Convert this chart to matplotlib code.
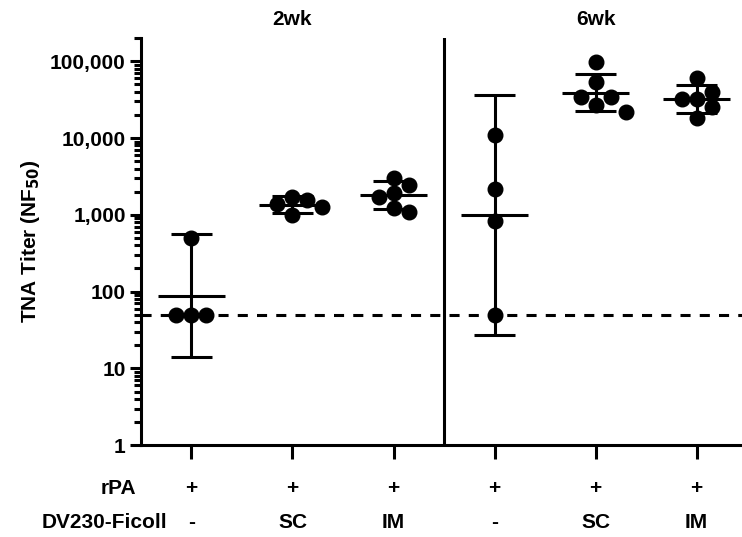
import numpy as np
import matplotlib
matplotlib.use("Agg")
import matplotlib.pyplot as plt
from matplotlib.ticker import FixedLocator, LogLocator, NullFormatter

plt.rcParams['font.family'] = ['Liberation Sans', 'DejaVu Sans']
plt.rcParams['font.weight'] = 'bold'

# Data: TNA titers per animal, six groups
groups = ["2wk rPA", "2wk SC", "2wk IM", "6wk rPA", "6wk SC", "6wk IM"]
titers = [
    [500, 50, 50, 50],
    [1700, 1550, 1400, 1250, 1000],
    [3050, 2470, 1940, 1720, 1230, 1090],
    [11000, 2200, 835, 50],
    [97000, 53000, 34000, 34000, 27000, 22000],
    [61000, 40000, 31800, 31800, 25000, 18500],
]
rpa_row = ["+", "+", "+", "+", "+", "+"]
ficoll_row = ["-", "SC", "IM", "-", "SC", "IM"]
time_labels = ["2wk", "6wk"]
lod = 50
y_ticks = [1, 10, 100, 1000, 10000, 100000]
y_ticklabels = ["1", "10", "100", "1,000", "10,000", "100,000"]

# two-sided 95% t critical values by degrees of freedom
t_crit = {2: 4.303, 3: 3.182, 4: 2.776, 5: 2.571, 6: 2.447}

fig = plt.figure(figsize=(7.42, 5.37), dpi=100)
ax = fig.add_axes([0.19, 0.171, 0.81, 0.758])
ax.set_yscale("log")
ax.set_xlim(-0.5, 5.45)
ax.set_ylim(1, 2e5)

lw = 2.2
fs = 15
x_pos = np.arange(len(groups))

# Geometric mean with 95% CI
for x, vals in zip(x_pos, titers):
    logs = np.log10(vals)
    m = logs.mean()
    se = logs.std(ddof=1) / np.sqrt(len(logs))
    half = t_crit[len(logs) - 1] * se
    ax.vlines(x, 10 ** (m - half), 10 ** (m + half), color="black", lw=lw, zorder=3)
    ax.hlines([10 ** (m - half), 10 ** (m + half)], x - 0.2, x + 0.2, color="black", lw=lw, zorder=3)
    ax.hlines(10 ** m, x - 0.33, x + 0.33, color="black", lw=lw, zorder=3)

# Simple swarm placement so dots do not overlap too much
min_dist = 15.0
for x, vals in zip(x_pos, titers):
    placed = []
    xs = []
    for v in vals:
        px, py = ax.transData.transform((x, v))
        k = 0
        while True:
            step = (k + 1) // 2 * (1 if k % 2 else -1) * min_dist if k else 0.0
            cand = px + step
            if all(np.hypot(cand - qx, py - qy) >= min_dist for qx, qy in placed):
                break
            k += 1
        placed.append((cand, py))
        xs.append(ax.transData.inverted().transform((cand, py))[0])
    ax.plot(xs, vals, "o", color="black", ms=10.5, zorder=4)

# Limit of detection and time separator
ax.axhline(lod, color="black", lw=lw, ls=(0, (3.3, 3.0)), zorder=2)
ax.axvline(2.5, color="black", lw=lw, zorder=2)

# Axes styling
for side in ["top", "right"]:
    ax.spines[side].set_visible(False)
for side in ["left", "bottom"]:
    ax.spines[side].set_linewidth(lw)

ax.yaxis.set_major_locator(FixedLocator(y_ticks))
ax.set_yticklabels(y_ticklabels, fontsize=fs, fontweight="bold")
ax.yaxis.set_minor_locator(LogLocator(base=10, subs=np.arange(2, 10), numticks=20))
ax.yaxis.set_minor_formatter(NullFormatter())
ax.tick_params(axis="y", which="major", length=8, width=lw, direction="out", pad=3)
ax.tick_params(axis="y", which="minor", length=5, width=lw, direction="out")

ax.set_xticks(x_pos)
ax.set_xticklabels([])
ax.tick_params(axis="x", which="major", length=10, width=lw, direction="out")

ax.set_ylabel(r"TNA Titer (NF$_{\mathbf{50}}$)", fontsize=fs, fontweight="bold", labelpad=6)

# Row labels beneath the axis
trans = ax.get_xaxis_transform()
for x, r, f in zip(x_pos, rpa_row, ficoll_row):
    ax.text(x, -0.106, r, transform=trans, ha="center", va="center", fontsize=fs, fontweight="bold")
    ax.text(x, -0.19, f, transform=trans, ha="center", va="center", fontsize=fs, fontweight="bold")
ax.text(-0.55, -0.106, "rPA", transform=trans, ha="right", va="center", fontsize=fs, fontweight="bold")
ax.text(-0.24, -0.19, "DV230-Ficoll", transform=trans, ha="right", va="center", fontsize=fs, fontweight="bold")

# Time point headers
for x, lab in zip([1, 4], time_labels):
    ax.text(x, 1.045, lab, transform=trans, ha="center", va="center", fontsize=fs, fontweight="bold")

fig.savefig("out.png", dpi=100)
